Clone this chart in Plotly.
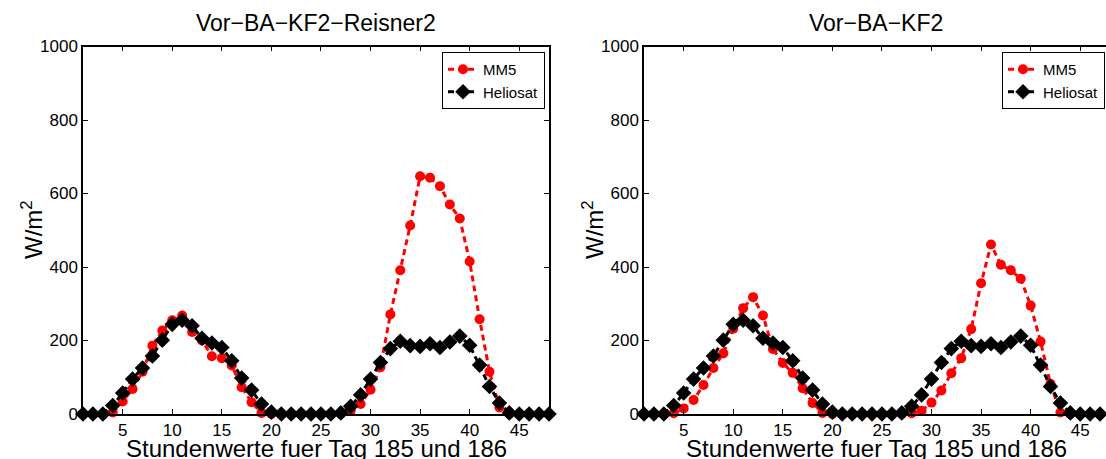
import plotly.graph_objects as go

hours = list(range(1, 49))

mm5_left = [0, 0, 0, 4, 34, 68, 115, 186, 227, 255, 268, 223, 200, 157, 152, 132, 73, 32, 3, 0,
            0, 0, 0, 0, 0, 0, 0, 9, 27, 66, 127, 271, 391, 513, 647, 643, 620, 570, 532, 415,
            258, 115, 18, 0, 0, 0, 0, 0]
mm5_right = [0, 0, 0, 2, 15, 38, 79, 125, 165, 232, 288, 318, 268, 177, 139, 112, 70, 30, 3, 0,
             0, 0, 0, 0, 0, 0, 0, 2, 9, 31, 64, 111, 152, 231, 356, 461, 406, 391, 368, 295,
             197, 82, 4, 0, 0, 0, 0, 0]
heliosat = [0, 0, 0, 23, 57, 95, 125, 158, 201, 244, 255, 240, 206, 193, 181, 145, 98, 65, 27, 5,
            0, 0, 0, 0, 0, 0, 3, 21, 52, 95, 140, 178, 198, 186, 184, 191, 181, 196, 212, 187,
            133, 75, 30, 3, 0, 0, 0, 0]

titles = ["Vor\u2212BA\u2212KF2\u2212Reisner2", "Vor\u2212BA\u2212KF2"]
xlabel = "Stundenwerte fuer Tag 185 und 186"
ylabel = "W/m<sup>2</sup>"
xticks = [5, 10, 15, 20, 25, 30, 35, 40, 45]
yticks = [0, 200, 400, 600, 800, 1000]

FONT = "Liberation Sans, Arial, Helvetica, sans-serif"
W, H = 1106, 459

fig = go.Figure()

def add_pair(mm5, xa, ya, legend):
    fig.add_trace(go.Scatter(x=hours, y=mm5, mode="lines+markers", name="MM5",
                             xaxis=xa, yaxis=ya, legend=legend, cliponaxis=False,
                             line=dict(color="#ff0000", width=3, dash="6px,4px"),
                             marker=dict(symbol="circle", size=10, color="#ff0000")))
    fig.add_trace(go.Scatter(x=hours, y=heliosat, mode="lines+markers", name="Heliosat",
                             xaxis=xa, yaxis=ya, legend=legend, cliponaxis=False,
                             line=dict(color="#000000", width=3, dash="6px,4px"),
                             marker=dict(symbol="diamond", size=12, color="#000000")))

add_pair(mm5_left, "x", "y", "legend")
add_pair(mm5_right, "x2", "y2", "legend2")

ydom = [45 / H, (H - 46.5) / H]
left_dom = [83 / W, 549 / W]
right_dom = [644 / W, 1.0]

axis_common = dict(showgrid=False, zeroline=False, showline=True, linecolor="black",
                   linewidth=1.5, ticks="inside", ticklen=5, tickcolor="black",
                   tickfont=dict(family=FONT, size=17, color="black"))

legend_common = dict(y=(H - 52) / H, yanchor="top", xanchor="right",
                     bgcolor="white", bordercolor="black", borderwidth=1,
                     font=dict(family=FONT, size=15, color="black"),
                     tracegroupgap=0, itemwidth=30)

fig.update_layout(
    width=W, height=H, margin=dict(l=0, r=0, t=0, b=0, autoexpand=False),
    plot_bgcolor="white", paper_bgcolor="white",
    font=dict(family=FONT, color="black"),
    xaxis=dict(domain=left_dom, range=[1, 48], tickvals=xticks, mirror="ticks",
               anchor="y", **axis_common),
    yaxis=dict(domain=ydom, range=[0, 1000], tickvals=yticks, mirror="ticks",
               anchor="x", **axis_common),
    xaxis2=dict(domain=right_dom, range=[1, 47.6], tickvals=xticks, mirror="ticks",
                anchor="y2", **axis_common),
    yaxis2=dict(domain=ydom, range=[0, 1000], tickvals=yticks, mirror=False,
                anchor="x2", **axis_common),
    legend=dict(x=545 / W, **legend_common),
    legend2=dict(x=1105 / W, **legend_common),
)

ylab_x = [32 / W, 593 / W]
xlab_centers = [316 / W, 876 / W]
for i in range(2):
    fig.add_annotation(text=titles[i], xref="paper", yref="paper",
                       x=xlab_centers[i], y=(H - 23) / H, xanchor="center", yanchor="middle",
                       showarrow=False, font=dict(family=FONT, size=23, color="black"))
    fig.add_annotation(text=xlabel, xref="paper", yref="paper",
                       x=xlab_centers[i], y=(H - 448) / H, xanchor="center", yanchor="middle",
                       showarrow=False, font=dict(family=FONT, size=24, color="black"))
    fig.add_annotation(text=ylabel, xref="paper", yref="paper", textangle=-90,
                       x=ylab_x[i], y=(H - 230) / H, xanchor="center", yanchor="middle",
                       showarrow=False, font=dict(family=FONT, size=24, color="black"))

fig.write_html("out.html")
